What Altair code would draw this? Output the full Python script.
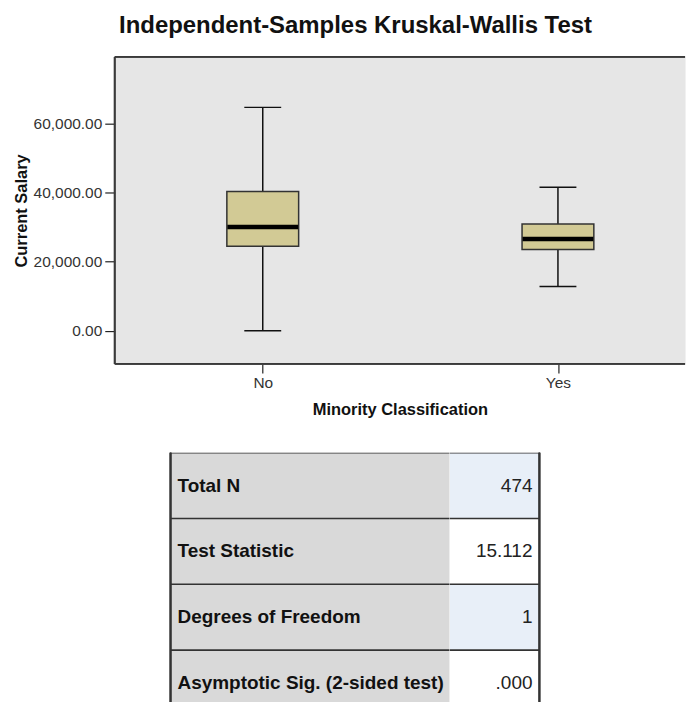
import altair as alt
import pandas as pd

# ---- data ----
GROUPS = ["No", "Yes"]
WHISKER_LOW = [0, 12800]
Q1 = [24430, 23480]
MEDIAN = [29990, 26530]
Q3 = [40290, 30860]
WHISKER_HIGH = [64600, 41530]

Y_TICKS = [0, 20000, 40000, 60000]

ROWS = ["Total N", "Test Statistic", "Degrees of Freedom", "Asymptotic Sig. (2-sided test)"]
VALUES = ["474", "15.112", "1", ".000"]

FONT = "Liberation Sans"
LINE = "#333333"
FRAME = "#3a3a3a"

# table layout (pixels): row height and visible table height
ROW_PX = 66
TABLE_PX = 250

box_df = pd.DataFrame({
    "group": GROUPS, "low": WHISKER_LOW, "q1": Q1, "median": MEDIAN,
    "q3": Q3, "high": WHISKER_HIGH,
})

x_enc = alt.X(
    "group:N", sort=GROUPS, title="Minority Classification",
    scale=alt.Scale(type="point", padding=0.466, align=0.538),
    axis=alt.Axis(labelAngle=0, domain=False, tickSize=9, tickColor="#222222",
                  tickWidth=1.2, labelPadding=3, titlePadding=10,
                  labelFontSize=15.5, titleFontSize=16.5),
)
y_scale = alt.Scale(domain=[-9600, 79200], nice=False, zero=False)
y_axis = alt.Axis(values=Y_TICKS, format=",.2f", domain=False, grid=False,
                  tickSize=10, tickColor="#222222", tickWidth=1.2,
                  labelPadding=3, titlePadding=4, labelFontSize=15.5,
                  titleFontSize=16.5)

base = alt.Chart(box_df)

whisker = base.mark_rule(color="#111111", strokeWidth=1.5).encode(
    x=x_enc,
    y=alt.Y("low:Q", scale=y_scale, axis=y_axis, title="Current Salary"),
    y2="high:Q",
)
caps_low = base.mark_tick(color="#111111", size=37, thickness=1.5, opacity=1).encode(
    x=x_enc, y=alt.Y("low:Q", scale=y_scale))
caps_high = base.mark_tick(color="#111111", size=37, thickness=1.5, opacity=1).encode(
    x=x_enc, y=alt.Y("high:Q", scale=y_scale))
box = base.mark_bar(size=72, fill="#d2ca95", stroke="#333333", strokeWidth=1.5,
                    opacity=1).encode(
    x=x_enc, y=alt.Y("q1:Q", scale=y_scale), y2="q3:Q")
median = base.mark_tick(color="#000000", size=71, thickness=4.5, opacity=1).encode(
    x=x_enc, y=alt.Y("median:Q", scale=y_scale))

frame_top = base.mark_rule(color=FRAME, strokeWidth=1.8).encode(
    y=alt.value(0), x=alt.value(0), x2=alt.value("width"))
frame_bottom = base.mark_rule(color=FRAME, strokeWidth=1.8).encode(
    y=alt.value("height"), x=alt.value(0), x2=alt.value("width"))
frame_left = base.mark_rule(color=FRAME, strokeWidth=1.8).encode(
    x=alt.value(0), y=alt.value(0), y2=alt.value("height"))

box_chart = alt.layer(whisker, caps_low, caps_high, box, median,
                      frame_top, frame_bottom, frame_left).properties(
    width=572, height=308,
    view=alt.ViewBackground(fill="#e6e6e6", strokeOpacity=0),
)

# ---- table ----
tab_df = pd.DataFrame({"row": ROWS, "value": VALUES})
row_scale = alt.Scale(domain=[0, TABLE_PX / ROW_PX], reverse=True, nice=False, zero=False)
tb = alt.Chart(tab_df).transform_window(
    idx="row_number()"
).transform_calculate(
    top="datum.idx - 1", bottom="datum.idx", mid="datum.idx - 0.5"
)

def y_of(field):
    return alt.Y(f"{field}:Q", scale=row_scale, axis=None)

lab_chart = alt.layer(
    tb.mark_rect(fill="#d9d9d9", clip=True).encode(
        y=y_of("top"), y2="bottom:Q", x=alt.value(0), x2=alt.value("width")),
    tb.mark_rule(color=LINE, strokeWidth=1.6, clip=True).encode(
        y=y_of("top"), x=alt.value(0), x2=alt.value("width")),
    tb.mark_rule(color=LINE, strokeWidth=1.6).encode(
        x=alt.value(0), y=alt.value(0), y2=alt.value("height")),
    tb.mark_text(align="left", baseline="middle", font=FONT, fontSize=19,
                 fontWeight="bold", color="#111111").encode(
        y=y_of("mid"), x=alt.value(7), text="row:N"),
).properties(width=280, height=TABLE_PX,
             view=alt.ViewBackground(strokeOpacity=0))

val_chart = alt.layer(
    tb.mark_rect(clip=True).encode(
        y=y_of("top"), y2="bottom:Q", x=alt.value(0), x2=alt.value("width"),
        color=alt.Color("row:N", legend=None,
                        scale=alt.Scale(domain=ROWS,
                                        range=["#e8eff8", "#ffffff", "#e8eff8", "#ffffff"]))),
    tb.mark_rule(color=LINE, strokeWidth=1.6, clip=True).encode(
        y=y_of("top"), x=alt.value(0), x2=alt.value("width")),
    tb.mark_rule(color=LINE, strokeWidth=1.6).encode(
        x=alt.value("width"), y=alt.value(0), y2=alt.value("height")),
    tb.mark_text(align="right", baseline="middle", font=FONT, fontSize=19,
                 color="#222222", dx=-7).encode(
        y=y_of("mid"), x=alt.value("width"), text="value:N"),
).properties(width=90, height=TABLE_PX,
             view=alt.ViewBackground(strokeOpacity=0))

# empty spacer that shifts the centred table to the left
spacer = alt.Chart(tab_df).mark_rect(opacity=0).encode(
    x=alt.value(0), x2=alt.value("width"), y=alt.value(0), y2=alt.value("height")
).properties(width=90, height=TABLE_PX, view=alt.ViewBackground(strokeOpacity=0))

table = alt.hconcat(lab_chart, val_chart, spacer, spacing=0)

chart = alt.vconcat(box_chart, table, spacing=34, center=True).properties(
    title=alt.TitleParams(
        "Independent-Samples Kruskal-Wallis Test", font=FONT, fontSize=24,
        fontWeight="bold", anchor="middle", color="#111111", offset=18, dx=6),
    padding={"left": 5, "top": 5, "right": 0, "bottom": 0},
).configure(font=FONT).configure_axis(
    labelFont=FONT, titleFont=FONT, labelColor="#333333", titleColor="#111111",
    titleFontWeight="bold",
)

chart.save("out.html", embed_options={"renderer": "svg", "actions": False})
